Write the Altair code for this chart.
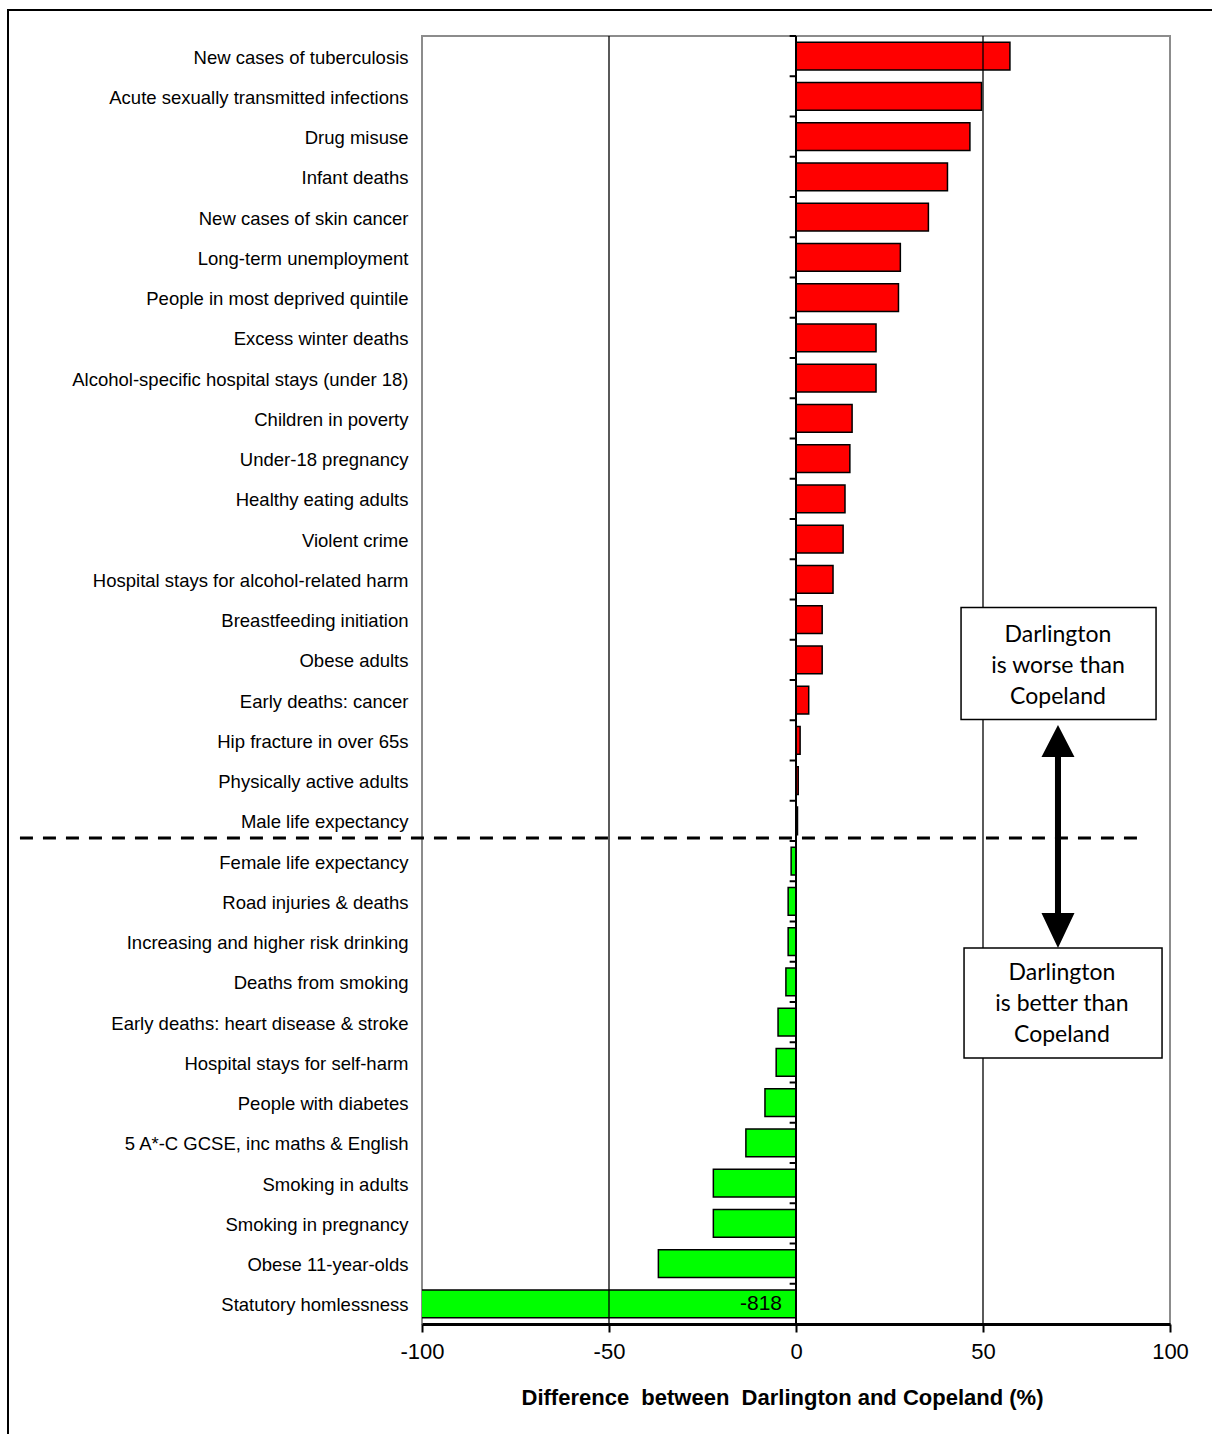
import altair as alt
import pandas as pd

# Indicators, top to bottom, and the percentage difference Darlington vs Copeland
indicators = [
    "New cases of tuberculosis",
    "Acute sexually transmitted infections",
    "Drug misuse",
    "Infant deaths",
    "New cases of skin cancer",
    "Long-term unemployment",
    "People in most deprived quintile",
    "Excess winter deaths",
    "Alcohol-specific hospital stays (under 18)",
    "Children in poverty",
    "Under-18 pregnancy",
    "Healthy eating adults",
    "Violent crime",
    "Hospital stays for alcohol-related harm",
    "Breastfeeding initiation",
    "Obese adults",
    "Early deaths: cancer",
    "Hip fracture in over 65s",
    "Physically active adults",
    "Male life expectancy",
    "Female life expectancy",
    "Road injuries & deaths",
    "Increasing and higher risk drinking",
    "Deaths from smoking",
    "Early deaths: heart disease & stroke",
    "Hospital stays for self-harm",
    "People with diabetes",
    "5 A*-C GCSE, inc maths & English",
    "Smoking in adults",
    "Smoking in pregnancy",
    "Obese 11-year-olds",
    "Statutory homlessness",
]
differences = [
    57.2, 49.6, 46.5, 40.5, 35.4, 27.9, 27.4, 21.4, 21.4, 15.0,
    14.4, 13.1, 12.6, 9.9, 7.0, 7.0, 3.4, 1.1, 0.6, 0.4,
    -1.3, -2.1, -2.1, -2.7, -4.8, -5.3, -8.3, -13.4, -22.1, -22.1,
    -36.8, -818,
]
x_ticks = [-100, -50, 0, 50, 100]
gridlines = [-50, 50]

worse_text = "Darlington\nis worse than\nCopeland"
better_text = "Darlington\nis better than\nCopeland"

FONT = "Liberation Sans"
BOX_FONT = "Lato"

rows = pd.DataFrame({"indicator": indicators, "diff": differences})
rows["side"] = ["worse" if v > 0 else "better" for v in differences]
rows["zero"] = 0.0
rows["label"] = [str(int(round(v))) for v in differences]
off_scale = rows[rows["diff"] < -100]

x_scale = alt.Scale(domain=[-100, 100], nice=False, zero=False)
# each category owns a full row; bars take 69% of it
y_scale = alt.Scale(domain=indicators, paddingInner=0, paddingOuter=0)


def xq(field):
    return alt.X(f"{field}:Q", scale=x_scale)


def yn(band_pos=None):
    if band_pos is None:
        return alt.Y("indicator:N", scale=y_scale)
    return alt.Y("indicator:N", scale=y_scale, bandPosition=band_pos)


bars = alt.Chart(rows).mark_bar(
    stroke="black", strokeWidth=1.5, clip=True, height={"band": 0.69}
).encode(
    x=alt.X(
        "diff:Q",
        scale=x_scale,
        axis=alt.Axis(
            values=x_ticks,
            labelExpr="datum.value",
            labelFlush=False,
            title="Difference\u00a0 between\u00a0 Darlington and Copeland (%)",
            grid=False,
        ),
    ),
    x2="zero:Q",
    y=alt.Y(
        "indicator:N",
        scale=y_scale,
        axis=alt.Axis(
            title=None,
            ticks=False,
            domain=False,
            labelPadding=14,
            labelLimit=0,
            labelFontSize=18.5,
            labelFont=FONT,
            labelColor="black",
            labelOffset=1.5,
        ),
    ),
    color=alt.Color(
        "side:N",
        scale=alt.Scale(domain=["worse", "better"], range=["#ff0000", "#00ff00"]),
        legend=None,
    ),
)

# vertical gridlines at -50 and 50
grid = alt.Chart(pd.DataFrame({"diff": gridlines})).mark_rule(
    color="black", strokeWidth=1.3
).encode(x=xq("diff"))

zero_line = alt.Chart(pd.DataFrame({"diff": [0.0]})).mark_rule(
    color="black", strokeWidth=2
).encode(x=xq("diff"))

# small ticks on the zero line at each category boundary
tick_df = pd.DataFrame({"indicator": indicators, "diff": -1.7, "diff_end": 0.0})
y_ticks = alt.Chart(tick_df).mark_rule(color="black", strokeWidth=2).encode(
    x=xq("diff"), x2="diff_end:Q", y=yn(0)
)

off_label = alt.Chart(off_scale).mark_text(
    align="right", baseline="middle", dx=-14, fontSize=21, font=FONT, color="black"
).encode(x=xq("zero"), y=yn(), text="label:N")

# dashed divider between better and worse indicators
divider = alt.Chart(
    pd.DataFrame({"indicator": ["Male life expectancy"], "diff": [-207.5], "diff_end": [93.3]})
).mark_rule(color="black", strokeWidth=3, strokeDash=[13, 10]).encode(
    x=xq("diff"), x2="diff_end:Q", y=yn(0.925)
)

box1 = alt.Chart(pd.DataFrame({"indicator": ["Obese adults"], "diff": [70.2]})).mark_point(
    shape="M-1,-0.574L1,-0.574L1,0.574L-1,0.574Z",
    size=195 ** 2,
    filled=True,
    fill="white",
    stroke="black",
    strokeWidth=1.5,
    opacity=1,
).encode(x=xq("diff"), y=yn(0.59))

box2 = alt.Chart(
    pd.DataFrame({"indicator": ["Early deaths: heart disease & stroke"], "diff": [71.4]})
).mark_point(
    shape="M-1,-0.556L1,-0.556L1,0.556L-1,0.556Z",
    size=198 ** 2,
    filled=True,
    fill="white",
    stroke="black",
    strokeWidth=1.5,
    opacity=1,
).encode(x=xq("diff"), y=yn(0.025))

text1 = alt.Chart(
    pd.DataFrame({"indicator": ["Obese adults"], "diff": [70.05], "txt": [worse_text]})
).mark_text(
    align="center", baseline="middle", lineBreak="\n", lineHeight=31, dy=-31,
    fontSize=23, font=BOX_FONT, color="black",
).encode(x=xq("diff"), y=yn(0.65), text="txt:N")

text2 = alt.Chart(
    pd.DataFrame(
        {"indicator": ["Early deaths: heart disease & stroke"], "diff": [71.1], "txt": [better_text]}
    )
).mark_text(
    align="center", baseline="middle", lineBreak="\n", lineHeight=31, dy=-31,
    fontSize=23, font=BOX_FONT, color="black",
).encode(x=xq("diff"), y=yn(0.062), text="txt:N")

# double-headed arrow between the two boxes
arrow_path = (
    "M0,-1L0.148,-0.713L0.027,-0.713L0.027,0.686L0.148,0.686L0,1"
    "L-0.148,0.686L-0.027,0.686L-0.027,-0.713L-0.148,-0.713Z"
)
arrow = alt.Chart(
    pd.DataFrame({"indicator": ["Male life expectancy"], "diff": [70.05]})
).mark_point(
    shape=arrow_path, size=223 ** 2, filled=True, color="black", opacity=1, strokeWidth=0
).encode(x=xq("diff"), y=yn(0.888))

# outer frame around the figure
one = pd.DataFrame({"k": [0]})
frame_left = alt.Chart(one).mark_rule(color="black", strokeWidth=2).encode(
    x=alt.value(-414), y=alt.value(-26), y2=alt.value(1420)
)
frame_top = alt.Chart(one).mark_rule(color="black", strokeWidth=2).encode(
    x=alt.value(-415), x2=alt.value(820), y=alt.value(-26)
)

chart = (
    alt.layer(
        bars, grid, zero_line, y_ticks, off_label, divider,
        box1, box2, text1, text2, arrow, frame_left, frame_top,
    )
    .properties(
        width=748,
        height=1288,
        autosize=alt.AutoSizeParams(type="none"),
        padding={"left": 422, "top": 36, "right": 42, "bottom": 110},
        background="white",
    )
    .configure_view(stroke="#8c8c8c", strokeWidth=2)
    .configure_axisX(
        domainColor="black",
        domainWidth=3,
        tickColor="black",
        tickWidth=2,
        tickSize=8,
        labelFont=FONT,
        labelFontSize=22,
        labelColor="black",
        labelPadding=9,
        titleFont=FONT,
        titleFontSize=22,
        titleFontWeight="bold",
        titleColor="black",
        titleX=360,
        titleY=80,
        titleBaseline="alphabetic",
    )
)

chart.save("out.html", embed_options={"renderer": "svg", "actions": False})
